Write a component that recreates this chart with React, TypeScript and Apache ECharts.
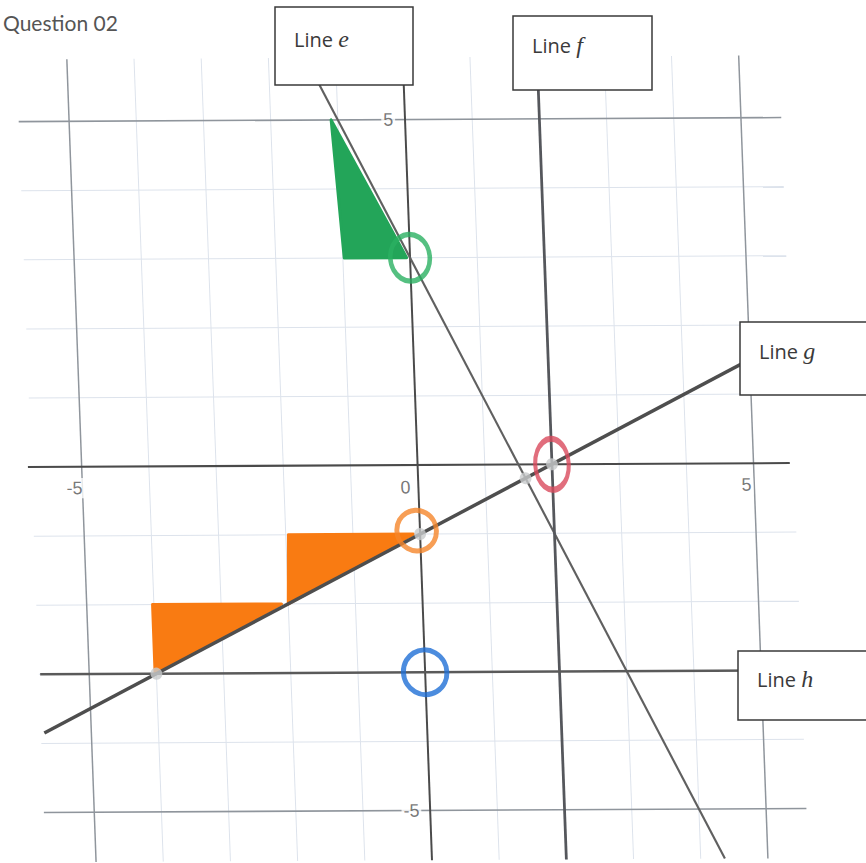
import React, { useEffect, useRef } from 'react';
import * as echarts from 'echarts';

// ---- data ----
const gridMinor = [-4, -3, -2, -1, 1, 2, 3, 4];
const gridMajor = [-5, 5];
const xTickLabels = [-5, 0, 5];
const yTickLabels = [5, -5];

const lineE = [[-1.45, 5.9], [4.36, -5.72]]; // y = -2x + 3
const lineF = [[2, 5.9], [2, -5.72]]; // x = 2
const lineG = [[-5.7, -3.85], [5.6, 1.8]]; // y = 0.5x - 1
const lineH = [[-5.73, -3], [5.6, -3]]; // y = -3

const intersections = [[-4, -3], [0, -1], [1.6, -0.2], [2, 0]];
const greenTriangles = [[-1.1, 5, -0.98, 3, -0.05, 3]];
const orangeTriangles = [
  [-4.02, -3, -4.02, -2, -2.1, -2],
  [-2, -2, -1.96, -1, -0.1, -1],
];
const greenCircle = [[0, 3]];
const orangeCircle = [[-0.05, -0.95]];
const redCircle = [[2, 0]];
const blueCircle = [[0, -3]];

const X_MIN = -6, X_MAX = 6, Y_MIN = -5.8, Y_MAX = 6;
const H_LEFT = -5.75, H_RIGHT = 5.6, V_TOP = 5.9, V_BOTTOM = -5.72;
const AX_LEFT = -5.8, AX_RIGHT = 5.54;

const ORIGIN_X = 417.6, ORIGIN_Y = 465, UNIT = 68;

function seg(data: number[][], color: string, width: number, z = 2) {
  return {
    type: 'line', data, showSymbol: false, symbol: 'none', silent: true, z,
    lineStyle: { color, width }, clip: false,
  };
}

function poly(data: number[][], color: string) {
  return {
    type: 'custom', silent: true, z: 3, data, clip: false,
    encode: { x: [0, 2, 4], y: [1, 3, 5] },
    renderItem: (params: any, api: any) => {
      const pts = [0, 1, 2].map((i) => api.coord([api.value(2 * i), api.value(2 * i + 1)]));
      return { type: 'polygon', shape: { points: pts }, style: { fill: color, stroke: color, lineWidth: 3, lineJoin: 'round' } };
    },
  };
}

function ring(data: number[][], color: string, size: number[]) {
  return {
    type: 'scatter', data, symbol: 'circle', symbolSize: size, silent: true, z: 6,
    itemStyle: { color: 'rgba(0,0,0,0)', borderColor: color, borderWidth: 5 },
  };
}

export default function App() {
  const ref = useRef<HTMLDivElement>(null);
  const overlayRef = useRef<HTMLDivElement>(null);
  useEffect(() => {
    if (!ref.current || !overlayRef.current) return;
    const chart = echarts.init(ref.current, undefined, { renderer: 'svg' });
    const overlay = echarts.init(overlayRef.current, undefined, { renderer: 'svg' });
    const series: any[] = [];
    gridMinor.forEach((v) => {
      series.push(seg([[v, V_TOP], [v, V_BOTTOM]], '#dde3ec', 1, 1));
      series.push(seg([[H_LEFT, v], [H_RIGHT, v]], '#dde3ec', 1, 1));
    });
    gridMajor.forEach((v) => {
      series.push(seg([[v, V_TOP], [v, V_BOTTOM]], '#8f959c', 1.5, 1));
      series.push(seg([[H_LEFT, v], [H_RIGHT, v]], '#8f959c', 1.5, 1));
    });
    // axes
    series.push(seg([[AX_LEFT, 0], [AX_RIGHT, 0]], '#4a4a4a', 2, 2));
    series.push(seg([[0, V_TOP], [0, V_BOTTOM]], '#4a4a4a', 2, 2));
    // shaded triangles
    series.push(poly(greenTriangles, '#23a559'));
    series.push(poly(orangeTriangles, '#f97b12'));
    // lines
    series.push(seg(lineE, '#606060', 2.2, 4));
    series.push(seg(lineF, '#55575c', 2.8, 4));
    series.push(seg(lineG, '#4e4e4e', 3.4, 4));
    series.push(seg(lineH, '#5a5a5a', 2.4, 4));
    // intersection points
    series.push({
      type: 'scatter', data: intersections, symbolSize: 12, silent: true, z: 5,
      itemStyle: { color: '#c8cbcc' },
    });
    // hand-drawn circles
    series.push(ring(greenCircle, '#2bb062', [40, 46]));
    series.push(ring(orangeCircle, '#f5862a', [40, 40]));
    series.push(ring(redCircle, '#d94a5c', [34, 50]));
    series.push(ring(blueCircle, '#1f6fd6', [44, 44]));
    // tick labels
    const labelStyle = {
      show: true, fontFamily: 'Liberation Sans', fontSize: 18, color: '#555',
      backgroundColor: '#fff', padding: [1, 2],
    };
    series.push({
      type: 'scatter', silent: true, z: 7, symbolSize: 1, itemStyle: { color: 'rgba(0,0,0,0)' },
      data: xTickLabels.map((v) => ({
        value: [v, 0],
        label: { ...labelStyle, formatter: String(v), offset: v === 0 ? [-13, 22] : [v < 0 ? -8 : -8, 21] },
      })),
    });
    series.push({
      type: 'scatter', silent: true, z: 7, symbolSize: 1, itemStyle: { color: 'rgba(0,0,0,0)' },
      data: yTickLabels.map((v) => ({
        value: [0, v],
        label: { ...labelStyle, formatter: String(v), offset: [v > 0 ? -17 : -19, 0] },
      })),
    });

    chart.setOption({
      animation: false,
      backgroundColor: '#fff',
      grid: {
        left: ORIGIN_X + X_MIN * UNIT, top: ORIGIN_Y - Y_MAX * UNIT,
        width: (X_MAX - X_MIN) * UNIT, height: (Y_MAX - Y_MIN) * UNIT,
      },
      xAxis: { type: 'value', min: X_MIN, max: X_MAX, show: false },
      yAxis: { type: 'value', min: Y_MIN, max: Y_MAX, show: false },
      series,
    });

    const box = (x: number, y: number, w: number, h: number, letter: string, ty: number) => ([
      { type: 'rect', shape: { x, y, width: w, height: h }, style: { fill: '#fff', stroke: '#3a3a3a', lineWidth: 1.5 }, z: 100 },
      {
        type: 'text', x: x + 19, y: y + ty, z: 101,
        style: {
          text: `{a|Line }{b|${letter}}`, verticalAlign: 'middle',
          rich: {
            a: { fontFamily: 'Open Sans', fontSize: 20, fill: '#3a3a3a' },
            b: { fontFamily: 'Liberation Serif', fontStyle: 'italic', fontSize: 24, fill: '#3a3a3a' },
          },
        },
      },
    ]);

    overlay.setOption({
      animation: false,
      graphic: [
        { type: 'text', x: 3, y: 22, z: 100, style: { text: 'Question 02', fontFamily: 'Lato', fontSize: 21, fill: '#555', verticalAlign: 'middle' } },
        ...box(275, 7, 138, 78, 'e', 32),
        ...box(513, 16, 139, 74, 'f', 29),
        ...box(740, 322, 130, 73, 'g', 29),
        ...box(738, 651, 132, 69, 'h', 28),
      ],
    });
    return () => { chart.dispose(); overlay.dispose(); };
  }, []);
  return (
    <div style={{ position: 'fixed', left: 0, top: 0, width: 866, height: 863, background: '#fff', overflow: 'hidden' }}>
      <div
        ref={ref}
        style={{
          position: 'absolute', left: 0, top: 0, width: 866, height: 863,
          transformOrigin: `${ORIGIN_X}px ${ORIGIN_Y}px`,
          transform: 'matrix(0.988, -0.0053, 0.037, 1.016, 0, 0)',
        }}
      />
      <div ref={overlayRef} style={{ position: 'absolute', left: 0, top: 0, width: 866, height: 863 }} />
    </div>
  );
}
